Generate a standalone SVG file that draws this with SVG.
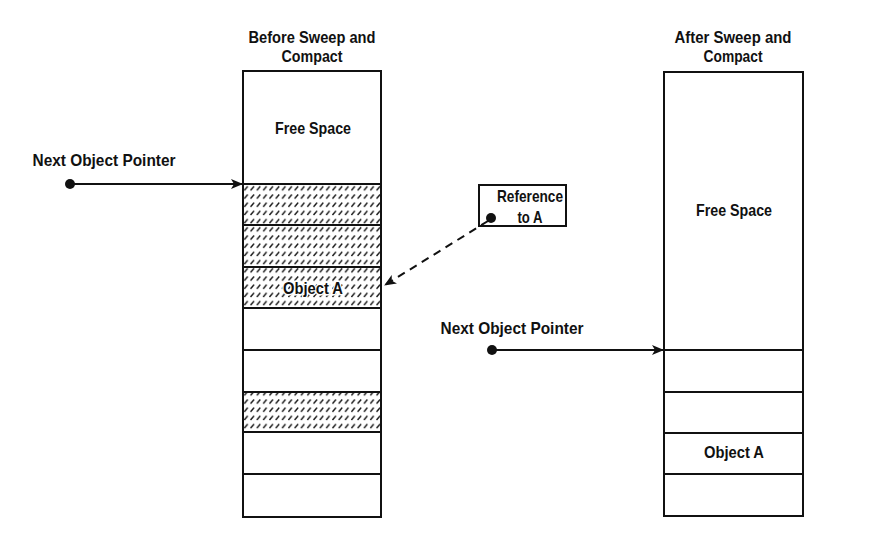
<svg xmlns="http://www.w3.org/2000/svg" width="876" height="543" viewBox="0 0 876 543">
<style>
.t{font-family:"Liberation Sans","Arial",sans-serif;font-size:17px;font-weight:bold;fill:#111;text-anchor:middle}
.halo{stroke:#fff;stroke-width:3;paint-order:stroke;stroke-linejoin:round}
.box{fill:#fff;stroke:#111;stroke-width:2}
.hat{fill:url(#hatch);stroke:#111;stroke-width:2}
.ln{stroke:#111;stroke-width:2;fill:none}
</style>
<defs>
<pattern id="hatch" patternUnits="userSpaceOnUse" width="6.3" height="8.2" x="243" y="184">
<rect width="6.3" height="8.2" fill="#fff"/>
<line x1="1.3" y1="6.3" x2="4.7" y2="2.3" stroke="#111" stroke-width="1.4"/>
</pattern>
<marker id="arr" markerWidth="12" markerHeight="10" refX="11" refY="5" orient="auto" markerUnits="userSpaceOnUse">
<path d="M0,0 L12,5 L0,10 L3,5 Z" fill="#111"/>
</marker>
</defs>
<rect width="876" height="543" fill="#fff"/>
<g id="before">
<text class="t" x="312" y="43" textLength="127" lengthAdjust="spacingAndGlyphs">Before Sweep and</text>
<text class="t" x="312" y="62" textLength="61" lengthAdjust="spacingAndGlyphs">Compact</text>
<rect class="box" x="243" y="71" width="138" height="446"/>
<rect class="hat" x="243" y="184" width="138" height="41"/>
<rect class="hat" x="243" y="225" width="138" height="42"/>
<rect class="hat" x="243" y="267" width="138" height="41"/>
<rect class="box" x="243" y="308" width="138" height="42"/>
<rect class="box" x="243" y="350" width="138" height="42"/>
<rect class="hat" x="243" y="392" width="138" height="40"/>
<rect class="box" x="243" y="432" width="138" height="42"/>
<rect class="box" x="243" y="474" width="138" height="43"/>
<text class="t" x="313" y="134" textLength="76" lengthAdjust="spacingAndGlyphs">Free Space</text>
<text class="t halo" x="313" y="294" textLength="60" lengthAdjust="spacingAndGlyphs">Object A</text>
</g>
<g id="after">
<text class="t" x="733" y="43" textLength="117" lengthAdjust="spacingAndGlyphs">After Sweep and</text>
<text class="t" x="733" y="62" textLength="59" lengthAdjust="spacingAndGlyphs">Compact</text>
<rect class="box" x="664" y="72" width="139" height="444"/>
<line class="ln" x1="664" y1="350" x2="803" y2="350"/>
<line class="ln" x1="664" y1="392" x2="803" y2="392"/>
<line class="ln" x1="664" y1="433" x2="803" y2="433"/>
<line class="ln" x1="664" y1="474" x2="803" y2="474"/>
<text class="t" x="734" y="216" textLength="76" lengthAdjust="spacingAndGlyphs">Free Space</text>
<text class="t" x="734" y="458" textLength="60" lengthAdjust="spacingAndGlyphs">Object A</text>
</g>
<g id="ref">
<rect class="box" x="479" y="185" width="87" height="41"/>
<text class="t" x="530" y="202" textLength="66" lengthAdjust="spacingAndGlyphs">Reference</text>
<text class="t" x="530" y="223" textLength="25" lengthAdjust="spacingAndGlyphs">to A</text>
<circle cx="491" cy="218" r="5" fill="#111"/>
</g>
<g id="ptr1">
<text class="t" x="104" y="166" textLength="143" lengthAdjust="spacingAndGlyphs">Next Object Pointer</text>
<circle cx="70" cy="184" r="5" fill="#111"/>
</g>
<g id="ptr2">
<text class="t" x="512" y="334" textLength="143" lengthAdjust="spacingAndGlyphs">Next Object Pointer</text>
<circle cx="492" cy="350" r="5" fill="#111"/>
</g>
<g id="connectors">
<line class="ln" x1="70" y1="184" x2="242" y2="184" marker-end="url(#arr)"/>
<line class="ln" x1="492" y1="350" x2="663" y2="350" marker-end="url(#arr)"/>
<line class="ln" x1="488" y1="221" x2="385" y2="285" stroke-dasharray="8,6" marker-end="url(#arr)"/>
</g>
</svg>
